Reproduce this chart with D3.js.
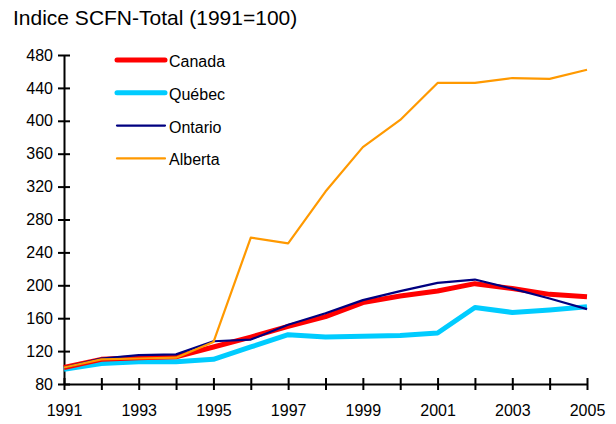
<!DOCTYPE html>
<html>
<head>
<meta charset="utf-8">
<script src="https://cdn.jsdelivr.net/npm/d3@7"></script>
<style>
  body { margin: 0; background: #fff; }
  text { font-family: "Liberation Sans", Arial, sans-serif; fill: #000; }
</style>
</head>
<body>
<div id="chart"></div>
<script>
var years = [1991, 1992, 1993, 1994, 1995, 1996, 1997, 1998, 1999, 2000, 2001, 2002, 2003, 2004, 2005];
var canada  = [100, 110, 112, 113, 125, 137, 150, 162, 179, 187, 193, 202, 196, 189, 186];
var quebec  = [98, 105, 107, 107, 110, 125, 140, 137, 138, 139, 142, 173, 167, 170, 174];
var ontario = [100, 111, 115, 116, 132, 134, 152, 166, 182, 193, 203, 207, 196, 184, 171];
var alberta = [100, 110, 111, 112, 131, 258, 251, 314, 368, 401, 446, 446, 452, 451, 462];
var yTicks = [80, 120, 160, 200, 240, 280, 320, 360, 400, 440, 480];
var xLabels = [1991, 1993, 1995, 1997, 1999, 2001, 2003, 2005];

var series = [
    {name: "Québec", values: quebec, color: "#00CCFF", width: 5},
    {name: "Canada", values: canada, color: "#FF0000", width: 5},
    {name: "Ontario", values: ontario, color: "#000080", width: 2.2},
    {name: "Alberta", values: alberta, color: "#FF9900", width: 2.2}
];
var legendOrder = ["Canada", "Québec", "Ontario", "Alberta"];

function init() {
    var w = 616, h = 424;
    var left = 64, right = 587, top = 55, bottom = 384;

    var svg = d3.select("#chart").append("svg")
        .attr("width", w)
        .attr("height", h);

    var xScale = d3.scaleLinear().domain([1991, 2005]).range([left, right]);
    var yScale = d3.scaleLinear().domain([80, 480]).range([bottom, top]);

    svg.append("text")
        .attr("x", 13)
        .attr("y", 25)
        .style("font-size", "21px")
        .text("Indice SCFN-Total (1991=100)");

    // y axis
    var yAxis = d3.axisLeft(yScale)
        .tickValues(yTicks)
        .tickSize(0)
        .tickPadding(11);
    var gy = svg.append("g")
        .attr("transform", "translate(" + left + ",0)")
        .call(yAxis);
    gy.select(".domain").attr("stroke", "#000").attr("stroke-width", 2);
    gy.selectAll(".tick text").style("font-size", "16px").attr("fill", "#000");
    gy.selectAll(".tick").append("line")
        .attr("x1", -6).attr("x2", 6)
        .attr("stroke", "#000").attr("stroke-width", 2);

    // x axis
    var xAxis = d3.axisBottom(xScale)
        .tickValues(years)
        .tickSize(0)
        .tickPadding(21)
        .tickFormat(function(d) { return xLabels.indexOf(d) >= 0 ? d : ""; });
    var gx = svg.append("g")
        .attr("transform", "translate(0," + bottom + ")")
        .call(xAxis);
    gx.select(".domain").attr("stroke", "#000").attr("stroke-width", 2);
    gx.selectAll(".tick text").style("font-size", "16px").attr("fill", "#000");
    gx.selectAll(".tick").append("line")
        .attr("y1", -6).attr("y2", 6)
        .attr("stroke", "#000").attr("stroke-width", 2);

    var line = d3.line()
        .x(function(d, i) { return xScale(years[i]); })
        .y(function(d) { return yScale(d); });

    svg.selectAll("path.series")
        .data(series)
        .enter()
        .append("path")
        .attr("class", "series")
        .attr("fill", "none")
        .attr("stroke", function(d) { return d.color; })
        .attr("stroke-width", function(d) { return d.width; })
        .attr("stroke-linejoin", "round")
        .attr("d", function(d) { return line(d.values); });

    // legend
    var legend = svg.selectAll("g.legend")
        .data(legendOrder.map(function(n) {
            return series.filter(function(s) { return s.name === n; })[0];
        }))
        .enter()
        .append("g")
        .attr("class", "legend")
        .attr("transform", function(d, i) { return "translate(117," + (60 + i * 32.8) + ")"; });
    legend.append("line")
        .attr("x1", 0).attr("x2", 48)
        .attr("stroke", function(d) { return d.color; })
        .attr("stroke-width", function(d) { return d.width; })
        .attr("stroke-linecap", "round");
    legend.append("text")
        .attr("x", 52)
        .attr("y", 7)
        .style("font-size", "16px")
        .text(function(d) { return d.name; });
}

window.onload = init;
</script>
</body>
</html>
